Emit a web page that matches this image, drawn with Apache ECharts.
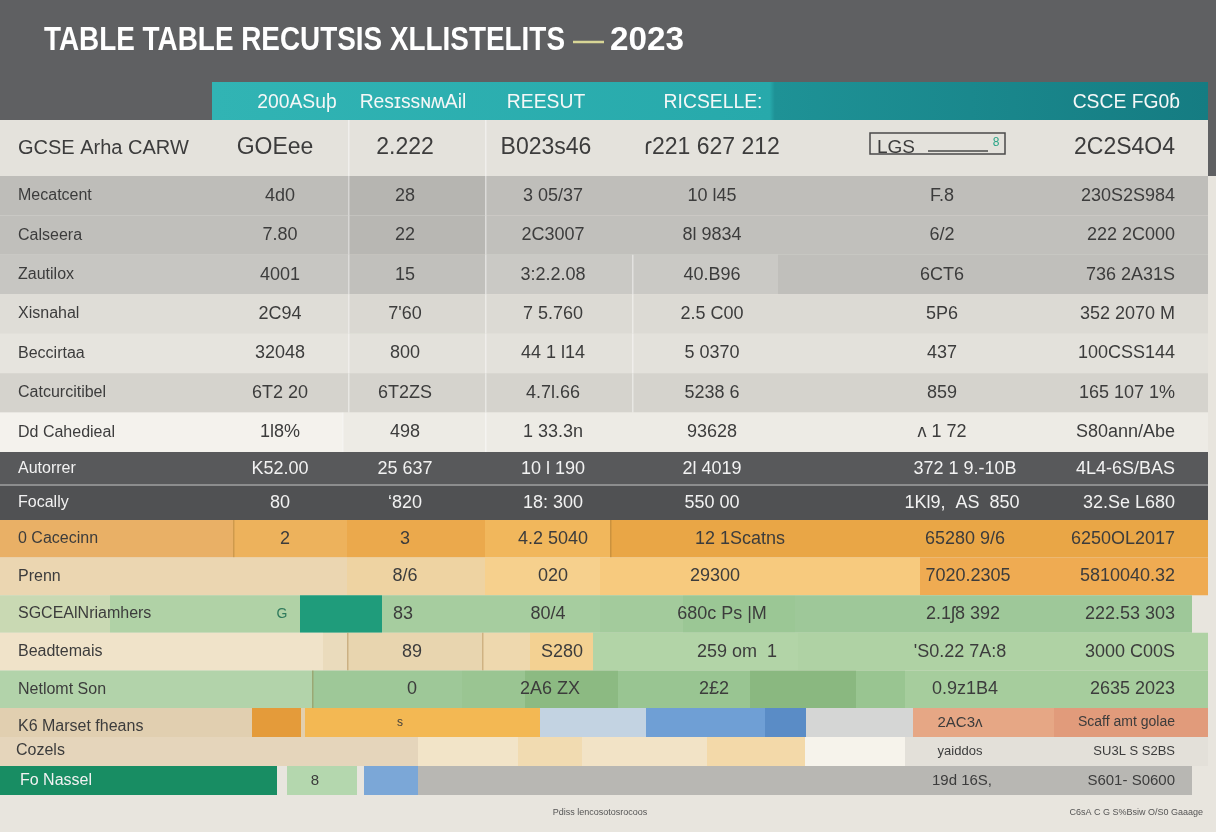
<!DOCTYPE html>
<html><head><meta charset="utf-8">
<script src="https://cdn.jsdelivr.net/npm/echarts@6/dist/echarts.min.js"></script>
<style>html,body{margin:0;padding:0;background:#e8e5de}#c{width:1216px;height:832px}</style>
</head><body><div id="c"></div><script>
// ---------- DATA ----------
const TITLE = 'TABLE TABLE RECUTSIS XLLISTELITS';
const TITLE_YEAR = '2023';
const HEADERS = ['200ASuþ', 'ResɪssɴʍAil', 'REESUT', 'RICSELLE:', 'CSCE FG0ɓ'];
const ROW_LABELS = ['GCSE Arha CARW', 'Mecatcent', 'Calseera', 'Zautilox', 'Xisnahal', 'Beccirtaa', 'Catcurcitibel', 'Dd Cahedieal', 'Autorrer', 'Focally', '0 Cacecinn', 'Prenn', 'SGCEAlNriamhers', 'Beadtemais', 'Netlomt Son', 'K6 Marset fheans', 'Cozels', 'Fo Nassel'];
const COL_1 = ['GOEee', '4d0', '7.80', '4001', '2C94', '32048', '6T2 20', '1l8%', 'K52.00', '80', '2', '', 'G', '', '', '', '', '8'];
const COL_2 = ['2.222', '28', '22', '15', "7'60", '800', '6T2ZS', '498', '25 637', '\u02bb820', '3', '8/6', '83', '89', '0', 's', '', ''];
const COL_3 = ['B023s46', '3 05/37', '2C3007', '3:2.2.08', '7 5.760', '44 1 l14', '4.7l.66', '1 33.3n', '10 l 190', '18: 300', '4.2 5040', '020', '80/4', 'S280', '2A6 ZX', '', '', ''];
const COL_4 = ['\u027e221 627 212', '10 l45', '8l 9834', '40.B96', '2.5 C00', '5 0370', '5238 6', '93628', '2l 4019', '550 00', '12 1Scatns', '29300', '680c Ps |M', '259 om  1', '2£2', '', '', ''];
const COL_5 = ['LGS', 'F.8', '6/2', '6CT6', '5P6', '437', '859', '\u1d27 1 72', '372 1 9.-10B', '1Kl9,  AS  850', '65280 9/6', '7020.2305', '2.1\u02838 392', "'S0.22 7A:8", '0.9z1B4', '2AC3\u1d27', 'yaiddos', '19d 16S,'];
const COL_6 = ['2C2S4O4', '230S2S984', '222 2C000', '736 2A31S', '352 2070 M', '100CSS144', '165 107 1%', 'S80ann/Abe', '4L4-6S/BAS', '32.Se L680', '6250OL2017', '5810040.32', '222.53 303', '3000 C00S', '2635 2023', 'Scaff amt golae', 'SU3L S S2BS', 'S601- S0600'];
const FOOTNOTE_LEFT = 'Pdiss lencosotosrocoos';
const FOOTNOTE_RIGHT = 'C6sA C G S%Bsiw O/S0 Gaaage';

// ---------- LAYOUT / STYLE ----------
const COLS = [ROW_LABELS, COL_1, COL_2, COL_3, COL_4, COL_5, COL_6];
const BANDS = [
  { top: 120, height: 56, rows: [0] },
  { top: 176, height: 276, rows: [1, 2, 3, 4, 5, 6, 7] },
  { top: 452, height: 68, rows: [8, 9] },
  { top: 520, height: 188, rows: [10, 11, 12, 13, 14] },
  { top: 708, height: 87, rows: [15, 16, 17] }
];
const COL_X = [18, 280, 405, 553, 712, 942, 1175];
const X_OVERRIDE = {
  0: { 1: 275, 3: 546, 5: 877 },
  8: { 5: 965 }, 9: { 5: 962 },
  10: { 1: 285, 4: 740, 5: 965 }, 11: { 4: 715, 5: 968 },
  12: { 1: 282, 2: 403, 3: 548, 4: 722, 5: 963 },
  13: { 2: 412, 3: 562, 4: 737, 5: 960 }, 14: { 2: 412, 3: 550, 4: 714, 5: 965 },
  15: { 2: 400, 5: 960 }, 16: { 0: 16, 5: 960 }, 17: { 0: 20, 1: 315, 5: 962 }
};
const ROW_FILL = {
  0: [[0, 1208, '#e4e2dc']],
  1: [[0, 348, '#bebdb9'], [348, 485, '#b6b5b1'], [485, 1208, '#bfbeba']],
  2: [[0, 348, '#c0bfbb'], [348, 485, '#b8b7b3'], [485, 1208, '#c1c0bc']],
  3: [[0, 348, '#c7c6c2'], [348, 485, '#c1c0bc'], [485, 778, '#cac9c5'], [778, 1208, '#c0bfbb']],
  4: [[0, 348, '#dfddd7'], [348, 485, '#dad8d2'], [485, 1208, '#dcdad4']],
  5: [[0, 348, '#e6e4de'], [348, 1208, '#e3e1db']],
  6: [[0, 1208, '#d5d3cd']],
  7: [[0, 342, '#f4f2ed'], [342, 1208, '#edebe5']],
  8: [[0, 1208, '#58595b']],
  9: [[0, 1208, '#505153']],
  10: [[0, 233, '#e9b066'], [233, 347, '#edb25c'], [347, 485, '#eba94c'], [485, 610, '#f1b75c'], [610, 1208, '#e9a646']],
  11: [[0, 347, '#ebd6b1'], [347, 485, '#eed3a2'], [485, 600, '#f6d08d'], [600, 920, '#f7ca7e'], [920, 1208, '#efab52']],
  12: [[0, 110, '#c9d9b3'], [110, 300, '#b0d2a6'], [300, 382, '#1f9c7b'], [382, 600, '#a6cd9f'], [600, 683, '#a3cb9c'], [683, 795, '#9bc795'], [795, 1192, '#9ec899']],
  13: [[0, 323, '#f0e3c9'], [323, 347, '#eadbbc'], [347, 482, '#e8d5af'], [482, 530, '#eed8ae'], [530, 593, '#f3d192'], [593, 798, '#b2d4a7'], [798, 1208, '#afd2a4']],
  14: [[0, 312, '#b2d3aa'], [312, 462, '#9ec898'], [462, 525, '#9ac592'], [525, 618, '#8cba82'], [618, 750, '#99c592'], [750, 856, '#8ab880'], [856, 905, '#99c591'], [905, 1208, '#a6cd9d']],
  15: [[0, 252, '#e1cfb0'], [252, 301, '#e49b3a'], [301, 305, '#e2cfae'], [305, 540, '#f3b853'], [540, 646, '#c3d3e2'], [646, 765, '#6f9fd5'], [765, 806, '#5a8cc6'], [806, 913, '#d5d6d5'], [913, 1054, '#e6a785'], [1054, 1208, '#e19b7b']],
  16: [[0, 418, '#e5d5bb'], [418, 518, '#f2e4c8'], [518, 582, '#f1dbb1'], [582, 707, '#f2e3c6'], [707, 805, '#f3d9a9'], [805, 905, '#f6f3eb'], [905, 1208, '#e3e0d9']],
  17: [[0, 277, '#188d63'], [287, 357, '#b4d7ae'], [364, 418, '#7ba7d7'], [418, 1192, '#b8b7b3']]
};
const DIVIDERS = { 0: [348, 485], 1: [348, 485], 2: [348, 485], 3: [348, 485, 632], 4: [348, 485, 632], 5: [348, 485, 632], 6: [348, 485, 632], 7: [342, 485], 10: [233, 610], 13: [347, 482], 14: [312] };
const DARK_ROWS = { 8: 1, 9: 1, 17: 1 };
const FONT = '"Liberation Sans", Arial, sans-serif';

function rowFont(r, k) {
  if (r === 0) return k === 0 ? 20 : (k === 5 ? 19 : 23);
  if (r >= 15 && k >= 5) return r === 15 && k === 6 ? 14 : (r === 16 ? 13 : 15);
  if (r === 15 && k === 2) return 12;
  if (r === 12 && k === 1) return 14;
  if (r === 17 && k === 1) return 15;
  return k === 0 ? 16 : 18;
}

function renderRow(params, api) {
  const cat = api.value(1);
  const r = api.value(2);
  const yc = api.coord([0, cat])[1];
  const h = api.size([0, 1])[1];
  const y0 = yc - h / 2;
  const children = [];
  (ROW_FILL[r] || []).forEach(function (s) {
    const a = api.coord([s[0], cat])[0], b = api.coord([s[1], cat])[0];
    children.push({ type: 'rect', shape: { x: a, y: y0, width: b - a, height: h }, style: { fill: s[2] } });
  });
  (DIVIDERS[r] || []).forEach(function (x) {
    const px = api.coord([x, cat])[0];
    children.push({ type: 'rect', shape: { x: px, y: y0, width: 1.5, height: h }, style: { fill: r >= 10 ? 'rgba(150,110,50,0.35)' : 'rgba(255,255,255,0.45)' } });
  });
  if (r === 8) {
    children.push({ type: 'rect', shape: { x: 0, y: y0 + h - 2, width: api.coord([1208, cat])[0], height: 2 }, style: { fill: '#8c8d8e' } });
  }
  for (let k = 0; k < COLS.length; k++) {
    const t = COLS[k][r];
    if (!t) continue;
    const ov = X_OVERRIDE[r] || {};
    const xv = ov[k] !== undefined ? ov[k] : COL_X[k];
    const px = api.coord([xv, cat])[0];
    let align = k === 0 ? 'left' : (k === 6 ? 'right' : 'center');
    if (r === 0 && k === 5) align = 'left';
    let yy = yc;
    if (r === 15 && k === 0) yy = yc + 4;
    if (r === 16 && k === 0) yy = yc - 1;
    let fill = DARK_ROWS[r] ? '#f2f2f2' : '#3c3c3c';
    if (r === 17 && k > 0) fill = '#3c3c3c';
    if (r === 12 && k === 1) fill = '#2f7a5c';
    children.push({
      type: 'text',
      style: { x: px, y: yy, text: t, align: align, verticalAlign: 'middle', fontSize: rowFont(r, k), fontFamily: FONT, fill: fill }
    });
  }
  return { type: 'group', children: children };
}

// condensed title: measure natural width and squeeze horizontally to the reference extent
const TITLE_FONT = 'bold 33px "Liberation Sans", Arial, sans-serif';
function measure(text, font) {
  const ctx = document.createElement('canvas').getContext('2d');
  ctx.font = font;
  return ctx.measureText(text).width;
}
const titleScale = 521 / measure(TITLE, TITLE_FONT);
const yearScale = 74 / measure(TITLE_YEAR, TITLE_FONT);

const HEADER_X = [297, 413, 546, 713, 1180];
const HEADER_FONT = '21px "Liberation Sans", Arial, sans-serif';

const option = {
  backgroundColor: '#e8e5de',
  animation: false,
  grid: BANDS.map(function (b) { return { left: 0, width: 1216, top: b.top, height: b.height }; }),
  xAxis: BANDS.map(function (b, i) { return { type: 'value', gridIndex: i, min: 0, max: 1216, show: false }; }),
  yAxis: BANDS.map(function (b, i) { return { type: 'category', gridIndex: i, inverse: true, show: false, data: b.rows.map(function (r) { return ROW_LABELS[r]; }) }; }),
  series: BANDS.map(function (b, i) {
    return {
      type: 'custom', xAxisIndex: i, yAxisIndex: i, silent: true, clip: false,
      renderItem: renderRow,
      encode: { x: 0, y: 1 },
      data: b.rows.map(function (r, k) { return [0, k, r]; })
    };
  }),
  graphic: [
    { type: 'rect', z: -5, shape: { x: 0, y: 0, width: 1216, height: 120 }, style: { fill: '#5f6062' } },
    { type: 'rect', z: -4, shape: { x: 1208, y: 120, width: 8, height: 56 }, style: { fill: '#5f6062' } },
    {
      type: 'rect', z: -3, shape: { x: 212, y: 82, width: 996, height: 38 },
      style: { fill: new echarts.graphic.LinearGradient(0, 0, 1, 0, [
        { offset: 0, color: '#31b4b4' }, { offset: 0.56, color: '#27a9ab' },
        { offset: 0.565, color: '#1e9296' }, { offset: 1, color: '#157c82' }]) }
    },
    { type: 'text', z: 5, x: 44, y: 41, scaleX: titleScale, style: { x: 0, y: 0, text: TITLE, align: 'left', verticalAlign: 'middle', font: TITLE_FONT, fill: '#ffffff' } },
    { type: 'line', z: 5, shape: { x1: 573, y1: 42, x2: 604, y2: 42 }, style: { stroke: '#d8d696', lineWidth: 2.5 } },
    { type: 'text', z: 5, x: 610, y: 41, scaleX: yearScale, style: { x: 0, y: 0, text: TITLE_YEAR, align: 'left', verticalAlign: 'middle', font: TITLE_FONT, fill: '#ffffff' } }
  ].concat(HEADERS.map(function (h, i) {
    return { type: 'text', z: 5, x: HEADER_X[i], y: 102, scaleX: 0.92, style: { x: 0, y: 0, text: h, align: i === 4 ? 'right' : 'center', verticalAlign: 'middle', font: HEADER_FONT, fill: '#f4f7f7' } };
  })).concat([
    { type: 'rect', z: 10, shape: { x: 870, y: 133, width: 135, height: 21 }, style: { fill: 'none', stroke: '#4a4a4a', lineWidth: 1.5 } },
    { type: 'line', z: 10, shape: { x1: 928, y1: 151, x2: 988, y2: 151 }, style: { stroke: '#4a4a4a', lineWidth: 1.5 } },
    { type: 'text', z: 10, style: { x: 996, y: 143, text: '8', align: 'center', verticalAlign: 'middle', fontSize: 12, fontFamily: FONT, fill: '#2aa587' } },
    { type: 'text', z: 10, style: { x: 600, y: 813, text: FOOTNOTE_LEFT, align: 'center', verticalAlign: 'middle', fontSize: 9, fontFamily: FONT, fill: '#555555' } },
    { type: 'text', z: 10, style: { x: 1203, y: 813, text: FOOTNOTE_RIGHT, align: 'right', verticalAlign: 'middle', fontSize: 9, fontFamily: FONT, fill: '#555555' } }
  ])
};

const chart = echarts.init(document.getElementById('c'), null, { renderer: 'canvas' });
chart.setOption(option);
</script></body></html>
